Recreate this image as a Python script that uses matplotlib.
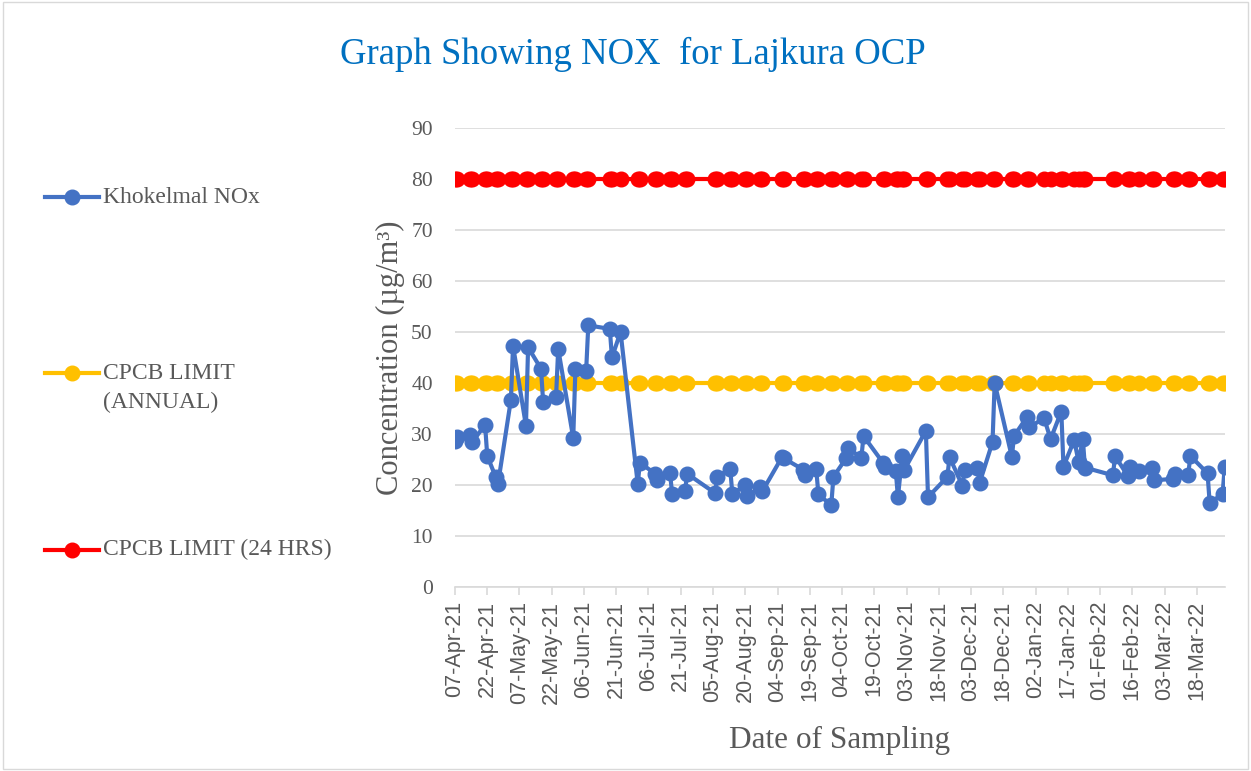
import pandas as pd
import matplotlib
matplotlib.use('Agg')
import matplotlib.pyplot as plt
import matplotlib.dates as mdates
from matplotlib.lines import Line2D
from matplotlib.patches import Rectangle

# Sampling dates and NOx values
sample_dates = [
    '2021-04-07', '2021-04-08', '2021-04-14', '2021-04-15', '2021-04-21', '2021-04-22',
    '2021-04-26', '2021-04-27', '2021-05-03', '2021-05-04', '2021-05-10', '2021-05-11',
    '2021-05-17', '2021-05-18', '2021-05-24', '2021-05-25', '2021-06-01', '2021-06-02',
    '2021-06-07', '2021-06-08', '2021-06-18', '2021-06-19', '2021-06-23', '2021-07-01',
    '2021-07-02', '2021-07-09', '2021-07-10', '2021-07-16', '2021-07-17', '2021-07-23',
    '2021-07-24', '2021-08-06', '2021-08-07', '2021-08-13', '2021-08-14', '2021-08-20',
    '2021-08-21', '2021-08-27', '2021-08-28', '2021-09-06', '2021-09-07', '2021-09-16',
    '2021-09-17', '2021-09-22', '2021-09-23', '2021-09-29', '2021-09-30', '2021-10-06',
    '2021-10-07', '2021-10-13', '2021-10-14', '2021-10-23', '2021-10-24', '2021-10-29',
    '2021-10-30', '2021-11-01', '2021-11-02', '2021-11-12', '2021-11-13', '2021-11-22',
    '2021-11-23', '2021-11-29', '2021-11-30', '2021-12-06', '2021-12-07', '2021-12-13',
    '2021-12-14', '2021-12-22', '2021-12-23', '2021-12-29', '2021-12-30', '2022-01-06',
    '2022-01-09', '2022-01-14', '2022-01-15', '2022-01-20', '2022-01-22', '2022-01-24',
    '2022-01-25', '2022-02-07', '2022-02-08', '2022-02-14', '2022-02-15', '2022-02-19',
    '2022-02-25', '2022-02-26', '2022-03-07', '2022-03-08', '2022-03-14', '2022-03-15',
    '2022-03-23', '2022-03-24', '2022-03-30', '2022-03-31',
]
nox_values = [
    28.6, 29.4, 29.8, 28.4, 31.8, 25.7,
    21.5, 20.2, 36.7, 47.3, 31.6, 47.0,
    42.8, 36.3, 37.2, 46.7, 29.2, 42.7,
    42.4, 51.3, 50.6, 45.0, 50.0, 20.2,
    24.4, 22.2, 21.0, 22.4, 18.2, 18.8,
    22.2, 18.4, 21.6, 23.2, 18.2, 20.0,
    17.8, 19.6, 18.8, 25.4, 25.2, 23.0,
    22.0, 23.2, 18.2, 16.0, 21.6, 25.3,
    27.2, 25.3, 29.6, 24.4, 23.6, 22.8,
    17.6, 25.7, 23.0, 30.6, 17.6, 21.6,
    25.5, 19.8, 22.9, 23.3, 20.4, 28.4,
    40.0, 25.5, 29.6, 33.3, 31.3, 33.1,
    29.0, 34.4, 23.6, 28.8, 24.6, 29.0,
    23.4, 21.9, 25.7, 21.7, 23.6, 22.8,
    23.3, 20.9, 21.2, 22.2, 21.9, 25.7,
    22.3, 16.5, 18.2, 23.6,
]
annual_limit = 40
daily_limit = 80

series_labels = ['Khokelmal NOx', 'CPCB LIMIT\n(ANNUAL)', 'CPCB LIMIT (24 HRS)']
series_colors = ['#4472C4', '#FFC000', '#FF0000']

dates = pd.to_datetime(sample_dates)
gray = '#595959'
serif = ['Liberation Serif', 'DejaVu Serif']
sans = ['Liberation Sans', 'DejaVu Sans']

fig = plt.figure(figsize=(12.51, 7.71), dpi=100)
ax = fig.add_axes([0.3637, 0.2387, 0.6153, 0.5953])

style = dict(linewidth=3, marker='o', markersize=10.5)
ax.plot(dates, [daily_limit] * len(dates), color=series_colors[2], zorder=2, **style)
ax.plot(dates, [annual_limit] * len(dates), color=series_colors[1], zorder=3, **style)
ax.plot(dates, nox_values, color=series_colors[0], zorder=4, **style)

ax.set_ylim(0, 90)
ax.set_yticks(range(0, 91, 10))
ax.set_xlim(dates[0], dates[-1])
ticks = pd.date_range(dates[0], dates[-1], freq='15D')
ax.set_xticks(ticks)
ax.xaxis.set_major_formatter(mdates.DateFormatter('%d-%b-%y'))

ax.grid(axis='y', color='#D9D9D9', linewidth=1.2, zorder=0)
ax.set_axisbelow(True)
for s in ['top', 'right', 'left']:
    ax.spines[s].set_visible(False)
ax.spines['bottom'].set_color('#D9D9D9')
ax.spines['bottom'].set_linewidth(1.2)

ax.tick_params(axis='y', length=0, pad=16, labelcolor=gray)
ax.tick_params(axis='x', length=6, color='#D9D9D9', width=1.2, pad=4, labelcolor=gray)
for lab in ax.get_yticklabels():
    lab.set_family(serif)
    lab.set_fontsize(15.5)
for lab in ax.get_xticklabels():
    lab.set_family(sans)
    lab.set_fontsize(15.5)
    lab.set_rotation(90)

ax.set_ylabel('Concentration (µg/m³)', family=serif, fontsize=22, color=gray, labelpad=4)
ax.set_xlabel('Date of Sampling', family=serif, fontsize=22.5, color=gray, labelpad=16)

fig.text(0.506, 0.929, 'Graph Showing NOX  for Lajkura OCP', family=serif,
         fontsize=26.5, color='#0070C0', ha='center', va='center')

# legend on the left, drawn by hand to match the spacing of the original
legend_y = [0.744, 0.516, 0.287]
line_step = 0.0376
for lbl, col, y in zip(series_labels, series_colors, legend_y):
    fig.add_artist(Line2D([0.036, 0.0575, 0.079], [y, y, y], transform=fig.transFigure,
                          color=col, linewidth=3, marker='o', markersize=10.5,
                          markevery=[1]))
    for i, part in enumerate(lbl.split('\n')):
        fig.text(0.082, y - i * line_step, part, family=serif, fontsize=17,
                 color=gray, ha='left', va='center')

fig.add_artist(Rectangle((0.002, 0.002), 0.996, 0.996, transform=fig.transFigure,
                         fill=False, edgecolor='#D9D9D9', linewidth=1))

plt.savefig('out.png')
plt.close(fig)
